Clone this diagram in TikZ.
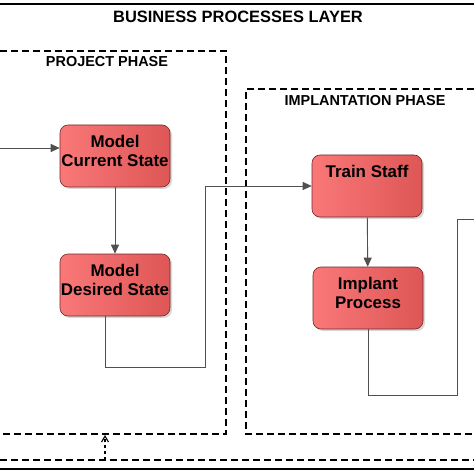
\documentclass[tikz,border=0pt]{standalone}
\usepackage{fontspec}
\setmainfont{Liberation Sans}
\usetikzlibrary{arrows.meta, positioning, shadows}
\definecolor{procLight}{HTML}{FA7878}
\definecolor{procDark}{HTML}{DE5656}
\definecolor{procEdge}{HTML}{6E2A2A}
\definecolor{flowGray}{HTML}{505050}
\tikzset{
  procBox/.style={rectangle, rounded corners=8bp, draw=procEdge, semithick,
                  left color=procLight, right color=procDark,
                  drop shadow={shadow xshift=2bp, shadow yshift=-2bp, fill=black!30},
                  align=center, font=\bfseries\fontsize{17}{19}\selectfont,
                  text depth=10bp,
                  minimum width=110bp, minimum height=62bp, inner sep=0pt},
  flowR/.style={-{Triangle[length=9bp, width=8bp]}, color=flowGray, line width=0.9bp},
  flowL/.style={color=flowGray, line width=0.9bp},
  phaseLine/.style={dashed, dash pattern=on 7bp off 4bp, line width=1.4bp},
  phaseTitle/.style={font=\bfseries\fontsize{14.5}{16}\selectfont},
}
\begin{document}
\begin{tikzpicture}[x=1bp, y=-1bp]
    \useasboundingbox (0,0) rectangle (474,474);
    % layer frame
    \draw[line width=1.5bp] (0,4) -- (474,4);
    \draw[line width=1.5bp] (0,469) -- (474,469);
    \draw[phaseLine] (0,460) -- (474,460);
    \node[font=\bfseries\fontsize{16.5}{18}\selectfont] (layer) at (238,17) {BUSINESS PROCESSES LAYER};
    % phases
    \draw[phaseLine] (0,51) -- (226,51) -- (226,434) -- (0,434);
    \draw[phaseLine] (474,89) -- (246,89) -- (246,434) -- (474,434);
    \node[phaseTitle] (proj) at (107,62) {PROJECT PHASE};
    \node[phaseTitle] (impl) at (365,101) {IMPLANTATION PHASE};
    % process steps
    \node[procBox] (mcs) at (115,156) {Model\\Current State};
    \node[procBox] (mds) at (115,285) {Model\\Desired State};
    \node[procBox] (ts) at (367,186) {Train Staff\\\strut};
    \node[procBox] (ip) at (368,298) {Implant\\Process};
    % loose ends
    \coordinate (in) at (0,148);
    \coordinate (out) at (474,219);
    \coordinate (base) at (105,460);
    \coordinate (projBot) at (105,435);
    % connectors
    \draw[flowR] (in) -- (in -| mcs.west);
    \draw[flowR] (mcs) -- (mds);
    \draw[flowR] ([xshift=-10bp]mds.south) |- (205,367) |- (ts.west);
    \draw[flowR] (ts) -- (ip);
    \draw[flowL] (ip.south) |- (457,395) |- (out);
    \draw[dashed, line width=1.1bp, -{Straight Barb[length=6bp, width=7bp]}] (base) -- (projBot);
\end{tikzpicture}
\end{document}
